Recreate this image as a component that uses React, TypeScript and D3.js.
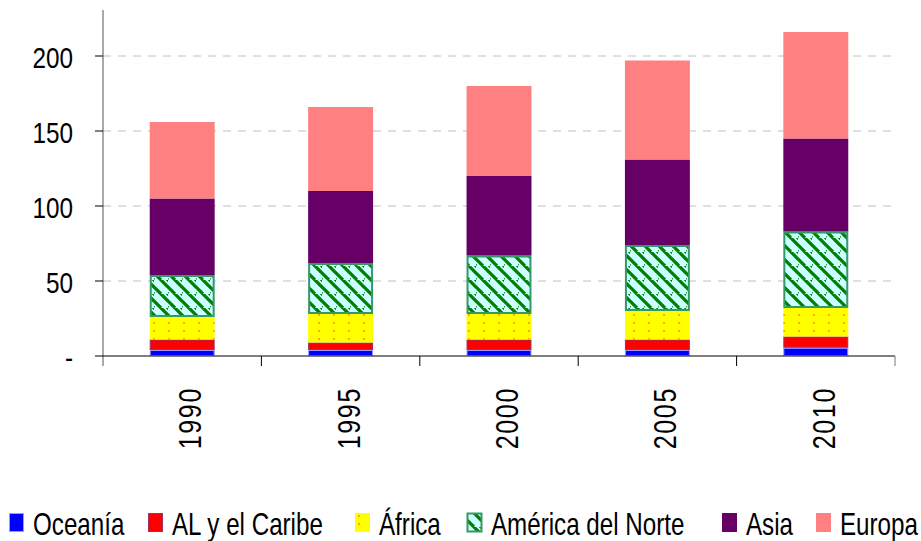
import React, { useEffect, useRef } from "react";
import * as d3 from "d3";

const years = ["1990", "1995", "2000", "2005", "2010"];
const oceania = [4, 4, 4, 4, 5.5];
const alCaribe = [7, 5, 7, 7, 7.5];
const africa = [15, 19, 17, 19, 19];
const norteAmerica = [28, 34, 39, 44, 51];
const asia = [51, 48, 53, 57, 62];
const europa = [51, 56, 60, 66, 71];
const yTicks = [0, 50, 100, 150, 200];

const seriesNames = ["Oceanía", "AL y el Caribe", "África", "América del Norte", "Asia", "Europa"];
const seriesKeys = ["oc", "al", "af", "na", "as", "eu"];

// no narrow font installed: squeeze Liberation Sans horizontally
const FONT = "'Liberation Sans', Arial, sans-serif";
const NARROW = 0.81;

const fills: Record<string, string> = {
  oc: "#0000FF",
  al: "#FF0000",
  af: "url(#dots)",
  na: "url(#stripes)",
  as: "#660066",
  eu: "#FF8080",
};
const strokes: Record<string, string> = {
  oc: "#9999FF",
  al: "#993366",
  af: "none",
  na: "#339966",
  as: "none",
  eu: "none",
};
const legendStroke: Record<string, string> = {
  oc: "#9999FF",
  al: "#993366",
  af: "#FFFF00",
  na: "#339966",
  as: "#660066",
  eu: "#FF8080",
};

const W = 921,
  H = 541;
const margin = { left: 103, right: 26, top: 11, bottom: 185 };

export default function App() {
  const ref = useRef<SVGSVGElement>(null);

  useEffect(() => {
    if (!ref.current) return;
    const svg = d3.select(ref.current);
    svg.selectAll("*").remove();

    const rows = years.map((y, i) => ({
      year: y,
      oc: oceania[i],
      al: alCaribe[i],
      af: africa[i],
      na: norteAmerica[i],
      as: asia[i],
      eu: europa[i],
    }));

    const x = d3
      .scaleBand()
      .domain(years)
      .range([margin.left, W - margin.right])
      .paddingInner(0.59)
      .paddingOuter(0.295);
    const y0 = H - margin.bottom;
    const y = d3.scaleLinear().domain([0, 230]).range([y0, margin.top]);

    const defs = svg.append("defs");
    const dots = defs
      .append("pattern")
      .attr("id", "dots")
      .attr("patternUnits", "userSpaceOnUse")
      .attr("width", 15)
      .attr("height", 8);
    dots.append("rect").attr("width", 15).attr("height", 8).attr("fill", "#FFFF00");
    dots.append("circle").attr("cx", 4).attr("cy", 3).attr("r", 1.1).attr("fill", "#FF9900");

    const stripes = defs
      .append("pattern")
      .attr("id", "stripes")
      .attr("patternUnits", "userSpaceOnUse")
      .attr("width", 14)
      .attr("height", 14);
    stripes.append("rect").attr("width", 14).attr("height", 14).attr("fill", "#CCFFFF");
    stripes
      .append("path")
      .attr("d", "M-7,0 L7,14 M0,-7 L21,14 M7,-7 L21,7 M0,-7 L14,7 M-7,7 L0,14")
      .attr("stroke", "#008000")
      .attr("stroke-width", 3.2);

    // gridlines
    svg
      .append("g")
      .selectAll("line")
      .data(yTicks.filter((d) => d > 0))
      .enter()
      .append("line")
      .attr("x1", margin.left)
      .attr("x2", W - margin.right)
      .attr("y1", (d) => y(d))
      .attr("y2", (d) => y(d))
      .attr("stroke", "#C0C0C0")
      .attr("stroke-dasharray", "8,7");

    const layers = d3.stack<any>().keys(seriesKeys)(rows);

    svg
      .append("g")
      .selectAll("g")
      .data(layers)
      .enter()
      .append("g")
      .each(function (layer) {
        const key = layer.key;
        const sw = key === "na" ? 2 : 1;
        const inset = strokes[key] !== "none" ? sw / 2 : 0;
        d3.select(this)
          .selectAll("rect")
          .data(layer)
          .enter()
          .append("rect")
          .attr("x", (d: any) => (x(d.data.year) as number) + inset)
          .attr("width", x.bandwidth() - inset * 2)
          .attr("y", (d) => y(d[1]) + inset)
          .attr("height", (d) => y(d[0]) - y(d[1]) - inset * 2)
          .attr("fill", fills[key])
          .attr("stroke", strokes[key])
          .attr("stroke-width", sw);
      });

    // y axis
    svg
      .append("line")
      .attr("x1", margin.left)
      .attr("x2", margin.left)
      .attr("y1", margin.top - 1)
      .attr("y2", y0 + 10)
      .attr("stroke", "#555");
    const yt = svg.append("g").selectAll("g").data(yTicks).enter().append("g");
    yt.append("line")
      .attr("x1", margin.left - 8)
      .attr("x2", margin.left)
      .attr("y1", (d) => y(d))
      .attr("y2", (d) => y(d))
      .attr("stroke", "#000");
    yt.append("text")
      .attr("transform", (d) => `translate(${margin.left - 30},${y(d) + 12}) scale(${NARROW},1)`)
      .attr("text-anchor", "end")
      .attr("font-family", FONT)
      .attr("font-size", 30)
      .attr("fill", "#000")
      .text((d) => (d === 0 ? "-" : String(d)));

    // x axis
    svg
      .append("line")
      .attr("x1", margin.left)
      .attr("x2", W - margin.right)
      .attr("y1", y0)
      .attr("y2", y0)
      .attr("stroke", "#000");
    const step = x.step();
    svg
      .append("g")
      .selectAll("line")
      .data(years)
      .enter()
      .append("line")
      .attr("x1", (d) => (x(d) as number) + x.bandwidth() / 2 + step / 2)
      .attr("x2", (d) => (x(d) as number) + x.bandwidth() / 2 + step / 2)
      .attr("y1", y0)
      .attr("y2", y0 + 10)
      .attr("stroke", (d, i) => (i === years.length - 1 ? "#777" : "#000"));
    svg
      .append("g")
      .selectAll("text")
      .data(years)
      .enter()
      .append("text")
      .attr(
        "transform",
        (d) =>
          `translate(${(x(d) as number) + x.bandwidth() / 2 + 19},${y0 + 31}) rotate(-90) scale(${NARROW},1)`
      )
      .attr("text-anchor", "end")
      .attr("font-family", FONT)
      .attr("font-size", 31)
      .attr("letter-spacing", 2)
      .attr("fill", "#000")
      .text((d) => d);

    // legend
    const legendX = [9, 148, 355, 467, 722, 816];
    const lg = svg
      .append("g")
      .selectAll("g")
      .data(seriesKeys)
      .enter()
      .append("g")
      .attr("transform", (d, i) => `translate(${legendX[i]},513)`);
    lg.append("rect")
      .attr("x", 0.5)
      .attr("y", 0.5)
      .attr("width", 14)
      .attr("height", 18)
      .attr("fill", (d) => fills[d])
      .attr("stroke", (d) => legendStroke[d])
      .attr("stroke-width", (d) => (d === "na" ? 2 : 1));
    lg.append("text")
      .attr("transform", `translate(24,22) scale(0.78,1)`)
      .attr("font-family", FONT)
      .attr("font-size", 31)
      .attr("fill", "#000")
      .text((d, i) => seriesNames[i]);
  }, []);

  return (
    <svg
      ref={ref}
      width={W}
      height={H}
      style={{ position: "absolute", left: 0, top: 0, background: "#fff" }}
    />
  );
}
